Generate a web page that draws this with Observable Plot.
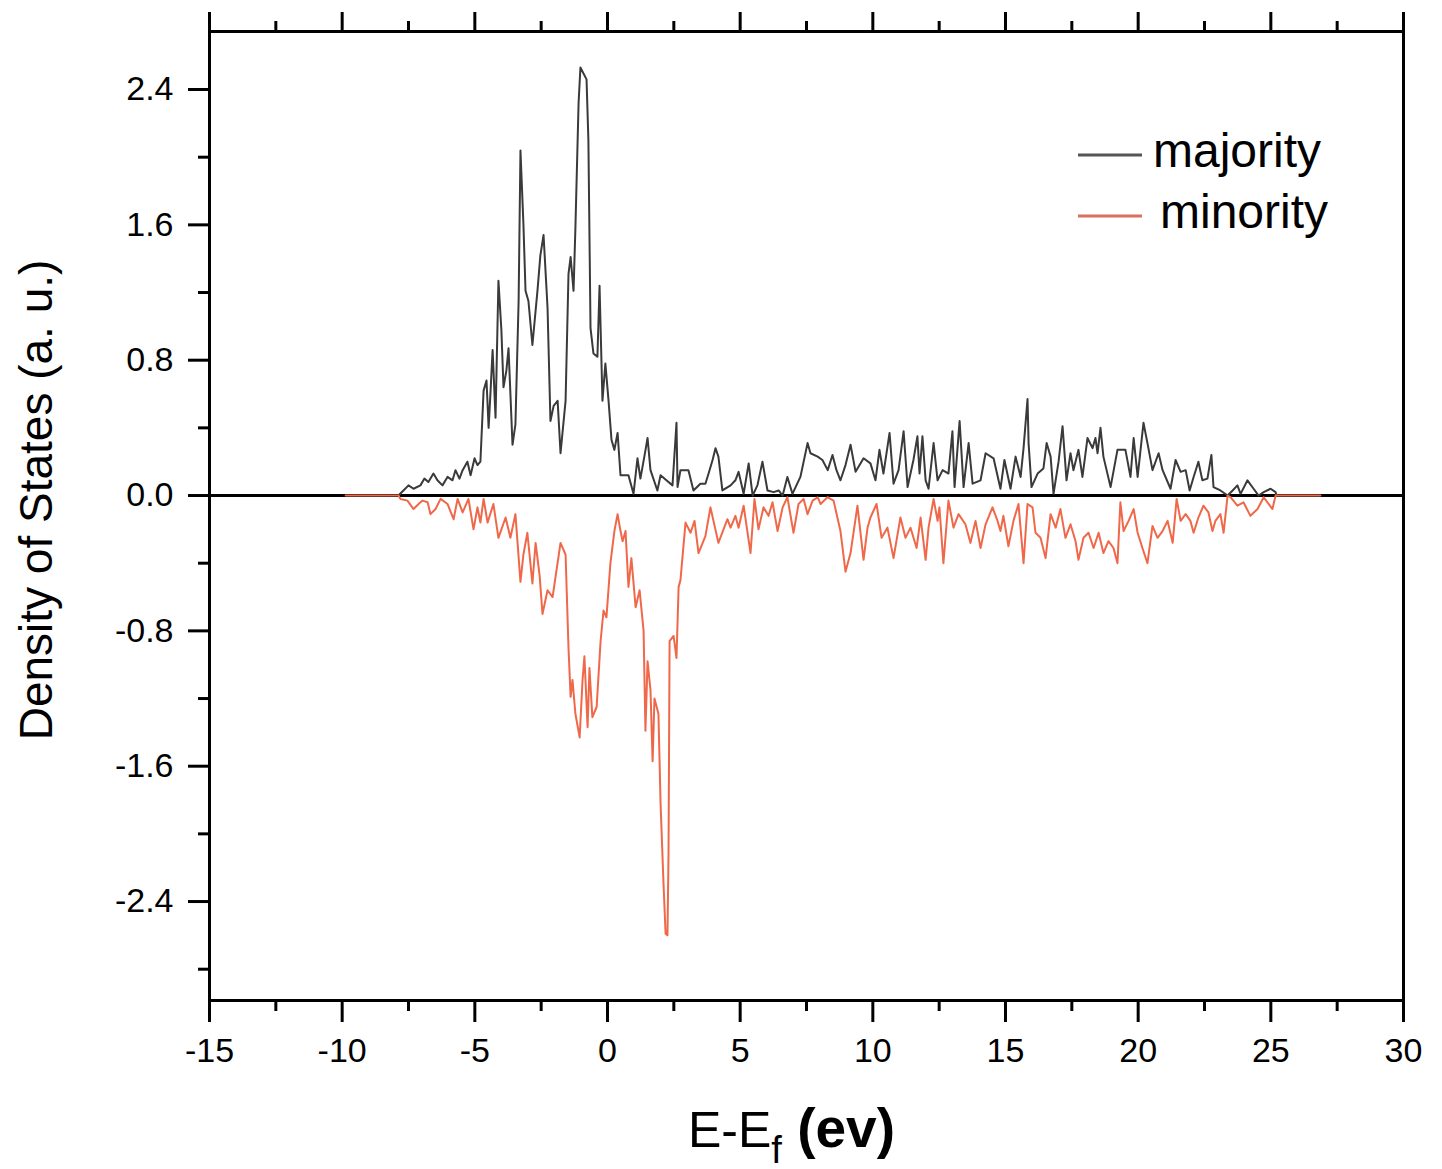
<!DOCTYPE html>
<html>
<head>
<meta charset="utf-8">
<script src="https://cdn.jsdelivr.net/npm/d3@7"></script>
<script src="https://cdn.jsdelivr.net/npm/@observablehq/plot@0.6"></script>
<style>
  html, body { margin: 0; padding: 0; background: #fff; }
  #chart { position: relative; width: 1442px; height: 1169px; }
</style>
</head>
<body>
<div id="chart"></div>
<script>
// ---- data ----
const majorityE = [-7.88,-7.69,-7.50,-7.31,-7.05,-6.90,-6.75,-6.56,-6.41,-6.22,
-6.03,-5.84,-5.73,-5.58,-5.46,-5.28,-5.16,-5.01,-4.90,-4.79,
-4.67,-4.56,-4.48,-4.41,-4.33,-4.22,-4.11,-4.00,-3.92,-3.81,
-3.73,-3.58,-3.47,-3.35,-3.28,-3.17,-3.09,-2.98,-2.83,-2.64,
-2.53,-2.41,-2.26,-2.15,-2.03,-1.88,-1.77,-1.58,-1.47,-1.39,
-1.28,-1.21,-1.09,-1.02,-0.79,-0.72,-0.64,-0.53,-0.38,-0.30,
-0.19,-0.08,0.04,0.15,0.26,0.38,0.49,0.79,0.98,1.13,
1.24,1.40,1.51,1.62,1.88,2.00,2.22,2.45,2.60,2.64,
2.75,3.05,3.24,3.50,3.69,3.81,3.96,4.07,4.18,4.33,
4.64,4.82,4.94,5.13,5.32,5.47,5.65,5.84,6.03,6.26,
6.45,6.60,6.78,6.97,7.27,7.54,7.65,7.92,8.10,8.30,
8.48,8.63,8.78,8.97,9.16,9.35,9.65,9.91,10.10,10.25,
10.40,10.63,10.78,10.97,11.16,11.31,11.53,11.68,11.76,11.87,
11.99,12.10,12.29,12.44,12.63,12.85,13.00,13.08,13.27,13.42,
13.61,13.76,14.06,14.25,14.55,14.81,14.96,15.19,15.38,15.57,
15.68,15.83,15.87,15.98,16.21,16.43,16.55,16.70,16.81,17.00,
17.15,17.30,17.45,17.56,17.75,17.90,18.09,18.28,18.39,18.47,
18.58,18.69,18.96,19.22,19.52,19.71,19.83,19.98,20.20,20.35,
20.54,20.77,20.92,21.22,21.41,21.60,21.79,21.94,22.09,22.27,
22.42,22.61,22.76,22.84,23.10,23.37,23.56,23.74,23.86,24.12,
24.35,24.54,24.73,24.99,25.18,25.21];
const majorityDOS = [0,0.03,0.06,0.04,0.06,0.10,0.08,0.13,0.09,0.06,
0.11,0.09,0.15,0.10,0.15,0.20,0.12,0.22,0.18,0.20,
0.62,0.68,0.40,0.61,0.86,0.46,1.27,0.98,0.64,0.74,
0.87,0.30,0.42,1.15,2.04,1.61,1.21,1.15,0.89,1.21,
1.42,1.54,1.11,0.44,0.53,0.56,0.25,0.56,1.31,1.41,
1.21,1.58,2.32,2.53,2.46,2.10,0.99,0.84,0.82,1.24,
0.56,0.78,0.56,0.33,0.27,0.37,0.12,0.12,0.01,0.22,
0.10,0.24,0.34,0.15,0.03,0.12,0.09,0.06,0.43,0.05,
0.15,0.15,0.03,0.07,0.07,0.13,0.21,0.28,0.23,0.03,
0.06,0.09,0.14,0.01,0.19,0.0,0.06,0.20,0.03,0.02,
0.03,0.0,0.11,0.01,0.11,0.31,0.25,0.23,0.21,0.15,
0.24,0.15,0.09,0.18,0.30,0.14,0.22,0.19,0.09,0.27,
0.13,0.37,0.07,0.15,0.38,0.05,0.21,0.35,0.13,0.35,
0.09,0.04,0.31,0.09,0.15,0.13,0.38,0.05,0.44,0.05,
0.31,0.07,0.09,0.25,0.22,0.04,0.21,0.04,0.23,0.11,
0.28,0.57,0.31,0.05,0.13,0.16,0.31,0.23,0.01,0.20,
0.41,0.09,0.25,0.15,0.27,0.11,0.34,0.28,0.34,0.25,
0.40,0.23,0.05,0.27,0.27,0.11,0.34,0.11,0.43,0.31,
0.15,0.25,0.15,0.04,0.21,0.14,0.15,0.03,0.11,0.20,
0.09,0.10,0.24,0.05,0.03,0.0,0.03,0.06,0.01,0.09,
0.04,0.0,0.02,0.04,0.02,0];

const minorityE = [-9.87,-7.88,-7.80,-7.54,-7.31,-7.12,-6.97,-6.78,-6.67,-6.48,
-6.29,-6.03,-5.80,-5.65,-5.46,-5.24,-5.05,-4.90,-4.79,-4.67,
-4.52,-4.30,-4.11,-3.84,-3.66,-3.47,-3.28,-3.17,-3.02,-2.83,
-2.71,-2.56,-2.45,-2.26,-2.07,-1.92,-1.77,-1.58,-1.47,-1.39,
-1.32,-1.21,-1.05,-0.94,-0.87,-0.75,-0.68,-0.57,-0.41,-0.26,
-0.15,-0.04,0.11,0.26,0.38,0.49,0.57,0.68,0.79,0.90,
1.06,1.21,1.36,1.43,1.51,1.62,1.70,1.77,1.92,2.00,
2.11,2.19,2.26,2.30,2.34,2.49,2.60,2.68,2.75,2.94,
3.13,3.28,3.43,3.69,3.88,4.18,4.52,4.64,4.82,4.94,
5.13,5.39,5.54,5.69,5.88,6.07,6.22,6.41,6.60,6.78,
7.01,7.20,7.39,7.54,7.73,7.92,8.03,8.29,8.52,8.78,
8.97,9.16,9.42,9.65,9.80,9.91,10.14,10.33,10.55,10.78,
11.04,11.23,11.42,11.65,11.80,11.99,12.10,12.29,12.44,12.51,
12.66,12.85,13.04,13.23,13.49,13.68,13.87,14.06,14.25,14.51,
14.70,14.81,14.92,15.11,15.30,15.49,15.68,15.83,16.02,16.13,
16.32,16.51,16.70,16.89,17.07,17.26,17.45,17.64,17.75,17.94,
18.13,18.32,18.51,18.69,18.88,19.07,19.22,19.33,19.45,19.64,
19.83,19.98,20.16,20.35,20.54,20.73,20.92,21.11,21.30,21.45,
21.60,21.79,21.97,22.09,22.27,22.46,22.65,22.80,22.91,23.10,
23.22,23.37,23.48,23.74,23.97,24.23,24.50,24.73,25.06,25.18,
26.87];
const minorityDOS = [0,0,-0.02,-0.03,-0.08,-0.05,-0.03,-0.04,-0.11,-0.08,
-0.02,-0.05,-0.14,-0.02,-0.10,-0.02,-0.20,-0.07,-0.16,-0.02,
-0.16,-0.05,-0.25,-0.13,-0.25,-0.11,-0.51,-0.35,-0.22,-0.52,
-0.28,-0.47,-0.70,-0.56,-0.60,-0.44,-0.28,-0.35,-0.90,-1.19,
-1.09,-1.29,-1.43,-1.09,-0.95,-1.37,-1.02,-1.31,-1.25,-0.86,
-0.68,-0.72,-0.40,-0.21,-0.11,-0.21,-0.27,-0.21,-0.54,-0.37,
-0.66,-0.56,-0.80,-1.39,-0.98,-1.15,-1.57,-1.20,-1.29,-1.82,
-2.29,-2.59,-2.60,-2.12,-0.86,-0.83,-0.96,-0.54,-0.50,-0.16,
-0.22,-0.15,-0.34,-0.24,-0.07,-0.28,-0.14,-0.19,-0.12,-0.19,
-0.06,-0.34,-0.02,-0.20,-0.07,-0.12,-0.04,-0.21,-0.07,-0.01,
-0.22,-0.05,-0.02,-0.11,-0.03,-0.01,-0.05,-0.01,-0.03,-0.21,
-0.45,-0.34,-0.06,-0.38,-0.19,-0.13,-0.05,-0.25,-0.19,-0.37,
-0.13,-0.25,-0.19,-0.31,-0.13,-0.38,-0.19,-0.02,-0.15,-0.07,
-0.40,-0.03,-0.19,-0.11,-0.17,-0.28,-0.15,-0.31,-0.17,-0.07,
-0.15,-0.21,-0.12,-0.30,-0.15,-0.05,-0.40,-0.05,-0.07,-0.22,
-0.25,-0.37,-0.11,-0.19,-0.08,-0.25,-0.17,-0.27,-0.38,-0.25,
-0.22,-0.31,-0.22,-0.34,-0.27,-0.31,-0.40,-0.04,-0.21,-0.15,
-0.08,-0.22,-0.31,-0.40,-0.18,-0.25,-0.21,-0.15,-0.28,-0.02,
-0.15,-0.11,-0.15,-0.22,-0.13,-0.06,-0.10,-0.21,-0.15,-0.11,
-0.22,0,-0.01,-0.06,-0.04,-0.12,-0.08,-0.01,-0.08,0,
0];

const xMajorTicks = [-15,-10,-5,0,5,10,15,20,25,30];
const xMinorTicks = [-12.5,-7.5,-2.5,2.5,7.5,12.5,17.5,22.5,27.5];
const yMajorTicks = [-2.4,-1.6,-0.8,0,0.8,1.6,2.4];
const yMinorTicks = [-2.8,-2.0,-1.2,-0.4,0.4,1.2,2.0];
const seriesNames = ["majority", "minority"];
const seriesColors = ["#3a3a3a", "#f0684a"];

// ---- tables ----
const majority = majorityE.map((e, i) => ({e, dos: majorityDOS[i]}));
const minority = minorityE.map((e, i) => ({e, dos: minorityDOS[i]}));

const FONT = "'Liberation Sans', Arial, Helvetica, sans-serif";

const svgNode = Plot.plot({
  width: 1442,
  height: 1169,
  marginLeft: 209,
  marginRight: 39,
  marginTop: 31,
  marginBottom: 169,
  x: {domain: [-15, 30]},
  y: {domain: [-2.985, 2.743]},
  style: {fontFamily: FONT, fontSize: "34px", color: "black", background: "white", overflow: "visible"},
  marks: [
    Plot.ruleY([0], {stroke: "black", strokeWidth: 3}),
    Plot.line(majority, {x: "e", y: "dos", stroke: seriesColors[0], strokeWidth: 2}),
    Plot.line(minority, {x: "e", y: "dos", stroke: seriesColors[1], strokeWidth: 2}),
    Plot.frame({stroke: "black", strokeWidth: 3}),
    Plot.axisY(yMajorTicks, {anchor: "left", tickSize: 21, tickPadding: 15, strokeWidth: 3,
      tickFormat: d => d.toFixed(1), label: null, fontSize: 34}),
    Plot.axisY(yMinorTicks, {anchor: "left", tickSize: 11, strokeWidth: 3, tickFormat: () => "", label: null}),
    Plot.axisX(xMajorTicks, {anchor: "bottom", tickSize: 22, tickPadding: 15, strokeWidth: 3,
      tickFormat: d => String(d), label: null, fontSize: 34}),
    Plot.axisX(xMinorTicks, {anchor: "bottom", tickSize: 11, strokeWidth: 3, tickFormat: () => "", label: null}),
    Plot.axisX(xMajorTicks, {anchor: "top", tickSize: 20, strokeWidth: 3, tickFormat: () => "", label: null}),
    Plot.axisX(xMinorTicks, {anchor: "top", tickSize: 11, strokeWidth: 3, tickFormat: () => "", label: null})
  ]
});

document.getElementById("chart").appendChild(svgNode);

const svg = d3.select(svgNode);

// y-axis title
svg.append("text")
  .attr("transform", "translate(52,500) rotate(-90)")
  .attr("text-anchor", "middle")
  .attr("font-family", FONT)
  .attr("font-size", 46)
  .attr("fill", "black")
  .text("Density of States (a. u.)");

// x-axis title with subscript
const xt = svg.append("text")
  .attr("x", 688).attr("y", 1147)
  .attr("text-anchor", "start")
  .attr("font-family", FONT)
  .attr("font-size", 50)
  .attr("fill", "black");
xt.append("tspan").text("E-E");
xt.append("tspan").attr("font-size", 38).attr("dy", 16).text("f");
xt.append("tspan").attr("dy", -16).attr("font-size", 55).attr("font-weight", "bold").text(" (ev)");

// legend
const legend = svg.append("g")
  .attr("font-family", FONT).attr("font-size", 48).attr("fill", "black")
  .attr("text-anchor", "start");
const legendRows = [{y: 155, tx: 1153}, {y: 216, tx: 1160}];
seriesNames.forEach((name, i) => {
  legend.append("line")
    .attr("x1", 1078).attr("x2", 1142)
    .attr("y1", legendRows[i].y).attr("y2", legendRows[i].y)
    .attr("stroke", i === 0 ? "#555" : "#d9705e").attr("stroke-width", 3);
  legend.append("text")
    .attr("x", legendRows[i].tx).attr("y", legendRows[i].y + 12)
    .attr("text-anchor", "start")
    .text(name);
});
</script>
</body>
</html>
